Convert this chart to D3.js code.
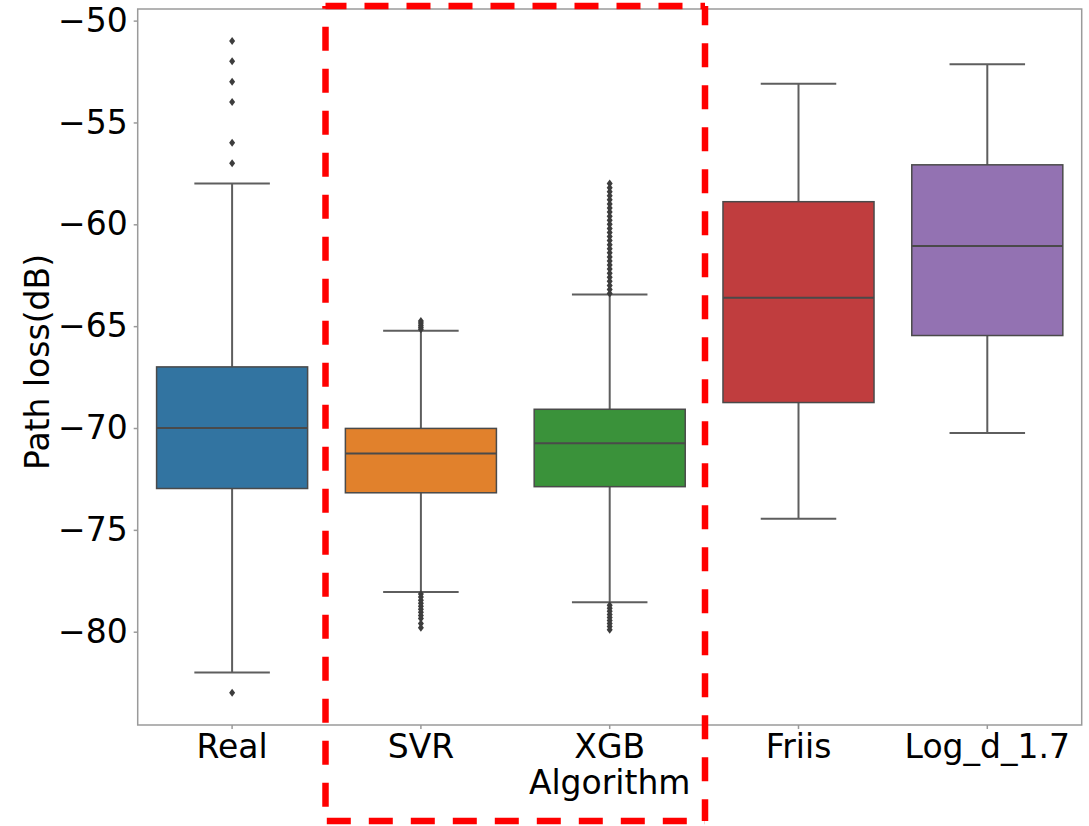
<!DOCTYPE html>
<html>
<head>
  <meta charset="utf-8">
  <script src="https://d3js.org/d3.v7.min.js"></script>
  <style>
    body { margin: 0; background: #fff; }
    text { font-family: "DejaVu Sans", sans-serif; fill: #000; }
  </style>
</head>
<body>
<svg id="chart"></svg>
<script>
  // box stats (dB)
  var categories = ["Real", "SVR", "XGB", "Friis", "Log_d_1.7"];
  var colors = ["#3274a1", "#e1812c", "#3a923a", "#c03d3e", "#9372b2"];
  var whiskerHigh = [-58.0, -65.22, -63.45, -53.1, -52.14];
  var q3 = [-67.0, -70.02, -69.08, -58.89, -57.08];
  var medians = [-70.0, -71.25, -70.75, -63.6, -61.06];
  var q1 = [-72.97, -73.18, -72.88, -68.75, -65.46];
  var whiskerLow = [-82.0, -78.05, -78.55, -74.46, -70.24];
  var fliers = [
    [-51, -52, -53, -54, -56, -57, -83],
    [-64.75, -64.85, -64.95, -65.05, -65.15,
     -78.15, -78.3, -78.45, -78.6, -78.75, -78.9, -79.05, -79.2, -79.35, -79.6, -79.8],
    [-58.0, -58.2, -58.4, -58.6, -58.8, -59.0, -59.2, -59.4, -59.6, -59.8, -60.0,
     -60.2, -60.4, -60.6, -60.8, -61.0, -61.2, -61.4, -61.6, -61.8, -62.0, -62.2,
     -62.4, -62.6, -62.8, -63.0, -63.2, -63.4,
     -78.7, -78.85, -79.0, -79.15, -79.3, -79.45, -79.6, -79.75, -79.9],
    [],
    []
  ];
  var yTicks = [-80, -75, -70, -65, -60, -55, -50];

  var width = 1089, height = 826;
  var plotLeft = 137.7, plotRight = 1081.7, plotTop = 9, plotBottom = 725;

  var svg = d3.select("#chart")
    .attr("width", width)
    .attr("height", height);

  var x = d3.scaleBand()
    .domain(categories)
    .range([plotLeft, plotRight])
    .paddingInner(0.2)
    .paddingOuter(0.1);

  var y = d3.scaleLinear()
    .domain([-84.58, -49.43])
    .range([plotBottom, plotTop]);

  var lineCol = "#5e5e5e";

  var rows = categories.map((c, i) => ({
    cat: c, color: colors[i], lo: whiskerLow[i], q1: q1[i], med: medians[i],
    q3: q3[i], hi: whiskerHigh[i], fliers: fliers[i]
  }));

  var g = svg.selectAll("g.box")
    .data(rows).enter()
    .append("g").attr("class", "box");

  var bw = x.bandwidth();
  var cx = d => x(d.cat) + bw / 2;

  // whiskers
  g.append("line")
    .attr("x1", cx).attr("x2", cx)
    .attr("y1", d => y(d.hi)).attr("y2", d => y(d.q3))
    .attr("stroke", lineCol).attr("stroke-width", 2);
  g.append("line")
    .attr("x1", cx).attr("x2", cx)
    .attr("y1", d => y(d.q1)).attr("y2", d => y(d.lo))
    .attr("stroke", lineCol).attr("stroke-width", 2);
  // caps
  g.append("line")
    .attr("x1", d => cx(d) - bw / 4).attr("x2", d => cx(d) + bw / 4)
    .attr("y1", d => y(d.hi)).attr("y2", d => y(d.hi))
    .attr("stroke", lineCol).attr("stroke-width", 2);
  g.append("line")
    .attr("x1", d => cx(d) - bw / 4).attr("x2", d => cx(d) + bw / 4)
    .attr("y1", d => y(d.lo)).attr("y2", d => y(d.lo))
    .attr("stroke", lineCol).attr("stroke-width", 2);

  // boxes
  g.append("rect")
    .attr("x", d => x(d.cat))
    .attr("width", bw)
    .attr("y", d => y(d.q3))
    .attr("height", d => y(d.q1) - y(d.q3))
    .attr("fill", d => d.color)
    .attr("stroke", "#4a4a4a").attr("stroke-width", 1.5);

  // medians
  g.append("line")
    .attr("x1", d => x(d.cat)).attr("x2", d => x(d.cat) + bw)
    .attr("y1", d => y(d.med)).attr("y2", d => y(d.med))
    .attr("stroke", "#4a4a4a").attr("stroke-width", 2);

  // outliers (thin diamonds)
  g.each(function(d) {
    d3.select(this).selectAll("path.flier")
      .data(d.fliers).enter()
      .append("path")
      .attr("class", "flier")
      .attr("d", v => {
        var px = cx(d), py = y(v);
        return "M" + px + "," + (py - 4) + "L" + (px + 3) + "," + py +
          "L" + px + "," + (py + 4) + "L" + (px - 3) + "," + py + "Z";
      })
      .attr("fill", "#3d3d3d");
  });

  // frame
  svg.append("rect")
    .attr("x", plotLeft).attr("y", plotTop)
    .attr("width", plotRight - plotLeft).attr("height", plotBottom - plotTop)
    .attr("fill", "none")
    .attr("stroke", "#9a9a9a").attr("stroke-width", 1.5);

  // axes
  var yAxis = svg.append("g")
    .attr("transform", "translate(" + plotLeft + ",0)")
    .call(d3.axisLeft(y).tickValues(yTicks).tickSize(4).tickPadding(6)
      .tickFormat(d => String(d).replace("-", "\u2212")));
  var xAxis = svg.append("g")
    .attr("transform", "translate(0," + plotBottom + ")")
    .call(d3.axisBottom(x).tickSize(4).tickPadding(6));

  [yAxis, xAxis].forEach(a => {
    a.select(".domain").remove();
    a.selectAll(".tick line").attr("stroke", "#9a9a9a").attr("stroke-width", 1.5);
    a.selectAll(".tick text")
      .attr("font-size", 33)
      .attr("font-family", "DejaVu Sans")
      .attr("fill", "#000");
  });

  svg.append("text")
    .attr("transform", "translate(49," + ((plotTop + plotBottom) / 2 - 5) + ") rotate(-90)")
    .attr("text-anchor", "middle")
    .attr("font-size", 33)
    .text("Path loss(dB)");

  svg.append("text")
    .attr("x", (plotLeft + plotRight) / 2)
    .attr("y", 794)
    .attr("text-anchor", "middle")
    .attr("font-size", 33)
    .text("Algorithm");

  // red dashed highlight around SVR and XGB
  var hl = { x0: 325.5, x1: 705, y0: 6, y1: 821 };
  var red = [
    { a: [hl.x0, hl.y0], b: [hl.x1, hl.y0], off: 3 },
    { a: [hl.x0, hl.y0], b: [hl.x0, hl.y1], off: 21.3 },
    { a: [hl.x1, hl.y0], b: [hl.x1, hl.y1], off: 4.7 },
    { a: [hl.x0, hl.y1], b: [hl.x1, hl.y1], off: 40.7 }
  ];
  svg.selectAll("line.hl")
    .data(red).enter()
    .append("line")
    .attr("class", "hl")
    .attr("x1", d => d.a[0]).attr("y1", d => d.a[1])
    .attr("x2", d => d.b[0]).attr("y2", d => d.b[1])
    .attr("stroke", "#ff0000")
    .attr("stroke-width", 6.5)
    .attr("stroke-dasharray", "24 18")
    .attr("stroke-dashoffset", d => d.off);
</script>
</body>
</html>
